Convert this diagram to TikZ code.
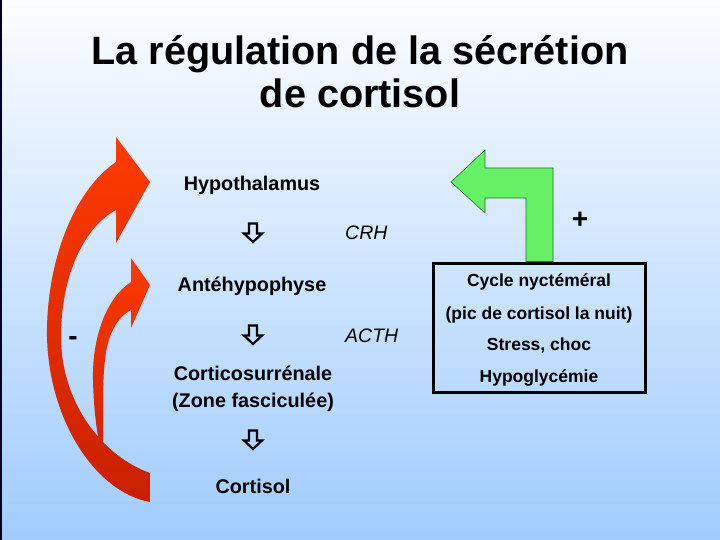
\documentclass[tikz,border=0pt]{standalone}
\usepackage{fontspec}
\setmainfont{Liberation Sans}
\definecolor{bgtop}{RGB}{252,253,255}
\definecolor{bgbot}{RGB}{160,204,252}
\definecolor{redtop}{RGB}{255,58,0}
\definecolor{redbot}{RGB}{200,32,0}
\definecolor{greenfill}{RGB}{102,240,102}
\definecolor{greenline}{RGB}{40,110,40}
\begin{document}
\begin{tikzpicture}[x=1pt,y=-1pt,
  lbl/.style={inner sep=0pt,anchor=base,font=\fontsize{19.8}{23}\selectfont\bfseries},
  hormone/.style={inner sep=0pt,anchor=base west,font=\fontsize{19.5}{23}\selectfont\itshape},
  boxtxt/.style={inner sep=0pt,anchor=base,font=\fontsize{17.5}{21}\selectfont\bfseries},
  titletxt/.style={inner sep=0pt,anchor=base,font=\fontsize{39.6}{44}\selectfont\bfseries},
  sign/.style={inner sep=0pt,font=\fontsize{28}{30}\selectfont\bfseries},
  pics/downarr/.style={code={
    \draw[line width=2.2pt,line join=miter,fill=white,fill opacity=0]
      (-4,-9.5) -- (4,-9.5) -- (4,0.5) -- (9,0.5) -- (0,9) -- (-9,0.5) -- (-4,0.5) -- cycle;}}]
\useasboundingbox (0,0) rectangle (720,540);
\shade[top color=bgtop,bottom color=bgbot] (0,0) rectangle (720,540);
\draw[line width=1.5pt,black!85!blue] (0.75,0) -- (0.75,540);

% title
\node[titletxt] (t1) at (360,65) {La régulation de la sécrétion};
\node[titletxt] (t2) at (360,108) {de cortisol};

% cascade
\node[lbl] (hyp) at (252,191) {Hypothalamus};
\pic (a1) at (253,233) {downarr};
\node[hormone] (crh) at (345,240) {CRH};
\node[lbl] (ante) at (252,291) {Antéhypophyse};
\pic (a2) at (253,335) {downarr};
\node[hormone] (acth) at (345,342) {ACTH};
\node[lbl] (cort1) at (253,380) {Corticosurrénale};
\node[lbl] (cort2) at (253,407) {(Zone fasciculée)};
\pic (a3) at (253,440) {downarr};
\node[lbl] (cortisol) at (253,493) {Cortisol};

% box
\draw[line width=3pt] (433,263) rectangle (645,392);
\node[boxtxt] (b1) at (539,286) {Cycle nyctéméral};
\node[boxtxt] (b2) at (539,319) {(pic de cortisol la nuit)};
\node[boxtxt] (b3) at (539,350) {Stress, choc};
\node[boxtxt] (b4) at (539,382) {Hypoglycémie};

% green bent arrow
\draw[fill=greenfill,draw=greenline,line width=0.6pt]
  (451,182) -- (485,150) -- (485,168) -- (553,168) -- (553,261.5)
  -- (526,261.5) -- (526,198) -- (485,198) -- (485,213) -- cycle;
\node[sign] (plus) at (580,220) {+};

% big red arrow
\shade[top color=redtop,bottom color=redbot]
  (116,162) .. controls (72,192) and (46,265) .. (47,337)
  .. controls (49,420) and (95,492) .. (150,502)
  -- (150,473)
  .. controls (100,455) and (61,400) .. (61,337)
  .. controls (61,272) and (86,226) .. (116,210)
  -- (116,243) -- (150,182) -- (116,137) -- cycle;
% small red arrow
\shade[top color=redtop,bottom color=redbot!90!redtop]
  (131,282) .. controls (106,298) and (92,338) .. (93,380)
  .. controls (94,420) and (99,445) .. (103,458)
  .. controls (104,425) and (101,385) .. (106,352)
  .. controls (110,330) and (119,316) .. (131,310)
  -- (131,328) -- (150,285) -- (131,258) -- cycle;
\node[sign] (minus) at (73,341) {-};
\end{tikzpicture}
\end{document}
